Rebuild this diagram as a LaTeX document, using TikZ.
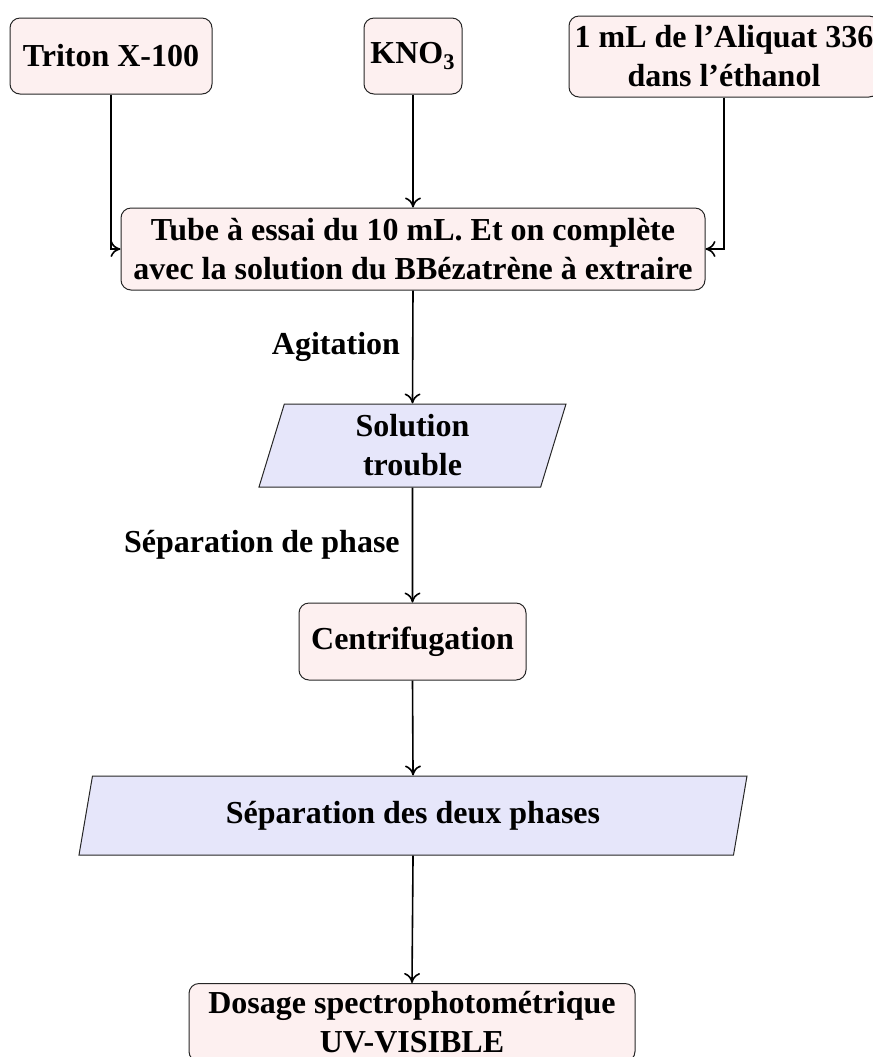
\documentclass[tikz,border=0pt]{standalone}
\usepackage{fontspec}
\setmainfont{Liberation Serif}
\usetikzlibrary{shapes.geometric,arrows.meta}
\definecolor{boxpink}{HTML}{FDF0F0}
\definecolor{boxblue}{HTML}{E6E6FA}
\tikzset{
  base/.style={draw=black!85, line width=0.5pt, align=center, inner sep=2pt,
    font=\fontsize{16}{19.5}\selectfont\bfseries},
  procbox/.style={base, rectangle, rounded corners=5pt, fill=boxpink},
  iobox/.style={base, trapezium, trapezium left angle=70, trapezium right angle=110,
    trapezium stretches body, fill=boxblue},
  flow/.style={-{To[length=5pt,width=8pt]}, line width=0.8pt},
  steplabel/.style={left, font=\fontsize{16}{19.5}\selectfont\bfseries, inner sep=6pt}
}
\begin{document}
\begin{tikzpicture}[x=0.5pt,y=-0.5pt]
\useasboundingbox (0,0) rectangle (873,1057);

% input reagents
\node[procbox, minimum width=101pt, minimum height=38pt] (triton) at (111,56) {Triton X-100};
\node[procbox, minimum width=49pt, minimum height=38pt] (kno) at (413,56) {KNO\textsubscript{3}};
\node[procbox, minimum width=155pt, minimum height=40.5pt] (aliquat) at (724,56.5)
  {1 mL de l'Aliquat 336\\dans l'éthanol};

% mixing tube
\node[procbox, minimum width=292pt, minimum height=41pt] (tube) at (413,249)
  {Tube à essai du 10 mL. Et on complète\\avec la solution du BBézatrène à extraire};

% intermediate states and steps
\node[iobox, minimum width=153.5pt, minimum height=41.5pt] (trouble) at (412.5,445.5)
  {Solution\\trouble};
\node[procbox, minimum width=113.5pt, minimum height=38.5pt] (centri) at (412.5,641.5)
  {Centrifugation};
\node[iobox, minimum width=334pt, minimum height=39.5pt] (phases) at (413,815.5)
  {Séparation des deux phases};
\node[procbox, minimum width=223pt, minimum height=39pt, anchor=north] (dosage) at (412,983)
  {Dosage spectrophotométrique\\UV-VISIBLE};

% connectors
\draw[flow] (triton.south) |- (tube.west);
\draw[flow] (kno.south) -- (tube.north);
\draw[flow] (aliquat.south) |- (tube.east);
\draw[flow] (tube.south) -- node[steplabel] {Agitation} (trouble.north);
\draw[flow] (trouble.south) -- node[steplabel] {Séparation de phase} (centri.north);
\draw[flow] (centri.south) -- (phases.north);
\draw[flow] (phases.south) -- (dosage.north);
\end{tikzpicture}
\end{document}
